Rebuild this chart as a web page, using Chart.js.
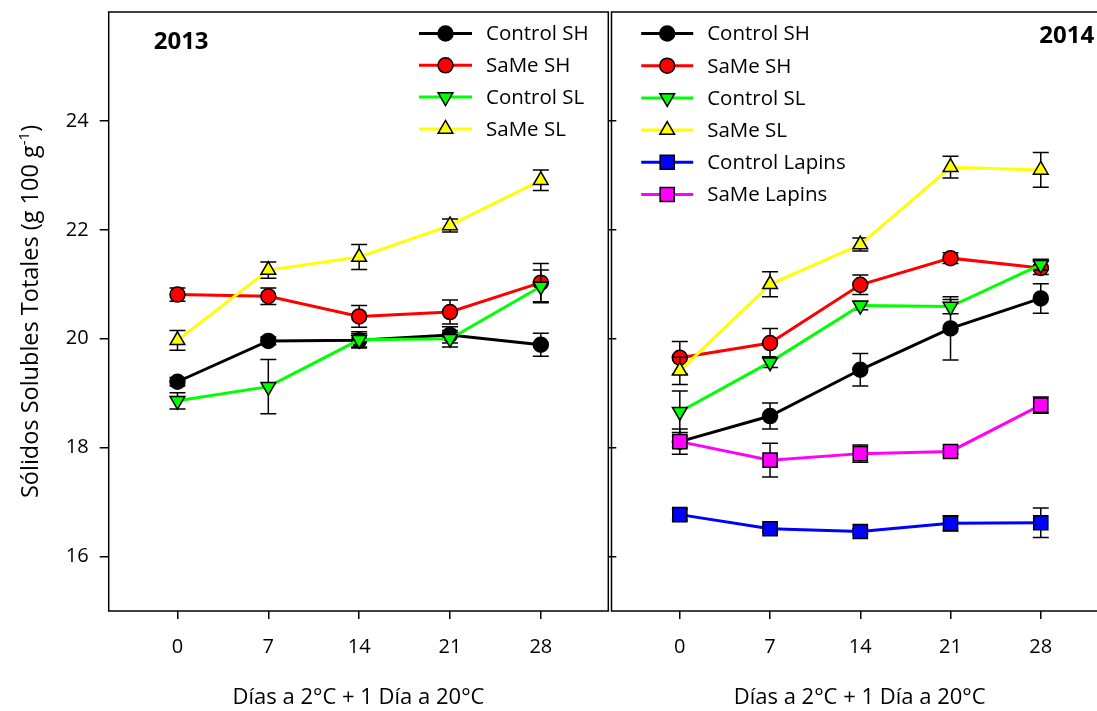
<!DOCTYPE html>
<html lang="es">
<head>
<meta charset="UTF-8">
<title>Sólidos Solubles Totales 2013 - 2014</title>
<script src="https://cdn.jsdelivr.net/npm/chart.js"></script>
<style>
    html, body { margin: 0; padding: 0; background: #fff; overflow: hidden; }
    body { width: 1097px; height: 711px; position: relative; }
    canvas { position: absolute; top: 0; }
    #chart2013 { left: 0; }
    #chart2014 { left: 600px; }
</style>
</head>
<body>
<canvas id="chart2013" width="625" height="711"></canvas>
<canvas id="chart2014" width="520" height="711"></canvas>

<script>
// Sampling days and axis ticks
const days = [0, 7, 14, 21, 28];
const dayTicks = [0, 7, 14, 21, 28];
const brixTicks = [16, 18, 20, 22, 24];

// 2013 season: means and standard errors
const controlSH2013 = [19.21, 19.96, 19.97, 20.07, 19.89];
const controlSH2013Err = [0.08, 0.07, 0.12, 0.15, 0.21];
const sameSH2013 = [20.81, 20.78, 20.41, 20.49, 21.03];
const sameSH2013Err = [0.12, 0.15, 0.2, 0.22, 0.35];
const controlSL2013 = [18.86, 19.12, 19.98, 20.0, 20.96];
const controlSL2013Err = [0.15, 0.5, 0.15, 0.15, 0.3];
const sameSL2013 = [19.97, 21.26, 21.5, 22.08, 22.91];
const sameSL2013Err = [0.18, 0.15, 0.23, 0.12, 0.19];

// 2014 season
const controlSH2014 = [18.11, 18.58, 19.43, 20.19, 20.74];
const controlSH2014Err = [0.1, 0.24, 0.3, 0.58, 0.27];
const sameSH2014 = [19.65, 19.92, 20.99, 21.48, 21.3];
const sameSH2014Err = [0.3, 0.27, 0.18, 0.1, 0.12];
const controlSL2014 = [18.66, 19.57, 20.61, 20.59, 21.36];
const controlSL2014Err = [0.38, 0.1, 0.08, 0.13, 0.1];
const sameSL2014 = [19.41, 21.0, 21.73, 23.15, 23.1];
const sameSL2014Err = [0.25, 0.23, 0.12, 0.2, 0.32];
const controlLapins2014 = [16.77, 16.51, 16.46, 16.61, 16.62];
const controlLapins2014Err = [0.1, 0.06, 0.05, 0.14, 0.27];
const sameLapins2014 = [18.11, 17.77, 17.89, 17.93, 18.78];
const sameLapins2014Err = [0.23, 0.31, 0.16, 0.05, 0.15];

Chart.defaults.font.family = '"Open Sans", sans-serif';
Chart.defaults.color = '#000';

function series(label, values, errors, color, style) {
    const marker = {
        circle: { pointStyle: 'circle', pointRadius: 7.5, pointRotation: 0 },
        down: { pointStyle: 'triangle', pointRadius: 8.5, pointRotation: 180 },
        up: { pointStyle: 'triangle', pointRadius: 8.5, pointRotation: 0 },
        square: { pointStyle: 'rect', pointRadius: 10, pointRotation: 0 }
    }[style];
    return Object.assign({
        label: label,
        data: days.map((d, i) => ({ x: d, y: values[i] })),
        errors: errors,
        borderColor: color,
        borderWidth: 3,
        pointBackgroundColor: color,
        pointBorderColor: '#000',
        pointBorderWidth: 1.5,
        tension: 0,
        fill: false
    }, marker);
}

// Vertical error bars, drawn just before each dataset so its line and markers sit on top
const errorBars = {
    id: 'errorBars',
    beforeDatasetDraw(chart, args) {
        const ds = chart.data.datasets[args.index];
        if (!ds.errors) return;
        const { ctx, scales: { x, y } } = chart;
        ctx.save();
        ctx.strokeStyle = '#000';
        ctx.lineWidth = 1.5;
        ds.data.forEach((p, i) => {
            const e = ds.errors[i];
            const px = x.getPixelForValue(p.x);
            const top = y.getPixelForValue(p.y + e);
            const bot = y.getPixelForValue(p.y - e);
            ctx.beginPath();
            ctx.moveTo(px, top); ctx.lineTo(px, bot);
            ctx.moveTo(px - 8, top); ctx.lineTo(px + 8, top);
            ctx.moveTo(px - 8, bot); ctx.lineTo(px + 8, bot);
            ctx.stroke();
        });
        ctx.restore();
    }
};

// Box around the plot area
const frame = {
    id: 'frame',
    beforeDatasetsDraw(chart) {
        const { ctx, chartArea: a } = chart;
        ctx.save();
        ctx.strokeStyle = '#000';
        ctx.lineWidth = 1.5;
        ctx.strokeRect(a.left, a.top, a.right - a.left, a.bottom - a.top);
        ctx.restore();
    }
};

// Line + symbol key inside the panel
const seriesKey = {
    id: 'seriesKey',
    afterDraw(chart, args, opts) {
        const { ctx, chartArea: a } = chart;
        const x0 = a.left + opts.lineStart;
        const x1 = x0 + opts.lineLength;
        const tx = a.left + opts.textStart;
        chart.data.datasets.forEach((ds, i) => {
            const y = a.top + opts.firstRow + i * opts.rowGap;
            ctx.save();
            ctx.strokeStyle = ds.borderColor;
            ctx.lineWidth = ds.borderWidth;
            ctx.beginPath();
            ctx.moveTo(x0, y);
            ctx.lineTo(x1, y);
            ctx.stroke();
            ctx.fillStyle = ds.pointBackgroundColor;
            ctx.strokeStyle = ds.pointBorderColor;
            ctx.lineWidth = ds.pointBorderWidth;
            Chart.helpers.drawPoint(ctx, {
                pointStyle: ds.pointStyle,
                rotation: ds.pointRotation,
                radius: ds.pointRadius,
                borderWidth: ds.pointBorderWidth
            }, (x0 + x1) / 2, y);
            ctx.fillStyle = '#000';
            ctx.font = '20.5px "Open Sans"';
            ctx.textAlign = 'left';
            ctx.textBaseline = 'middle';
            ctx.fillText(ds.label, tx, y + 1);
            ctx.restore();
        });
    }
};

// Season label in the panel corner
const yearLabel = {
    id: 'yearLabel',
    afterDraw(chart, args, opts) {
        const { ctx, chartArea: a } = chart;
        ctx.save();
        ctx.font = 'bold 24px "Open Sans"';
        ctx.fillStyle = '#000';
        ctx.textAlign = opts.align;
        ctx.textBaseline = 'middle';
        ctx.fillText(opts.text, a.left + opts.x, a.top + opts.y);
        ctx.restore();
    }
};

// Rotated y title with the superscript unit
const yTitle = {
    id: 'yTitle',
    afterDraw(chart, args, opts) {
        if (!opts.text) return;
        const { ctx, chartArea: a } = chart;
        const main = opts.text, sup = '-1', tail = ')';
        const big = '23.5px "Open Sans"', small = '15px "Open Sans"';
        ctx.save();
        ctx.fillStyle = '#000';
        ctx.textBaseline = 'alphabetic';
        ctx.textAlign = 'left';
        ctx.font = big;
        const wMain = ctx.measureText(main).width;
        const wTail = ctx.measureText(tail).width;
        ctx.font = small;
        const wSup = ctx.measureText(sup).width;
        const total = wMain + wSup + wTail;
        ctx.translate(opts.x, (a.top + a.bottom) / 2);
        ctx.rotate(-Math.PI / 2);
        let cx = -total / 2;
        ctx.font = big;
        ctx.fillText(main, cx, 0);
        cx += wMain;
        ctx.font = small;
        ctx.fillText(sup, cx, -9);
        cx += wSup;
        ctx.font = big;
        ctx.fillText(tail, cx, 0);
        ctx.restore();
    }
};

const setTicks = list => scale => { scale.ticks = list.map(v => ({ value: v })); };
const fixHeight = h => scale => { scale.height = h; scale.paddingLeft = 0; scale.paddingRight = 0; };
const fixWidth = w => scale => { scale.width = w; scale.paddingTop = 0; scale.paddingBottom = 0; };

const tickGrid = len => ({
    display: true, drawOnChartArea: false, drawTicks: true,
    tickLength: len, color: '#000', lineWidth: 1.5
});

function xAxis() {
    return {
        type: 'linear', position: 'bottom', min: -5.3, max: 33.2,
        afterBuildTicks: setTicks(dayTicks),
        afterFit: fixHeight(100),
        grid: tickGrid(8),
        border: { display: false },
        ticks: { padding: 16, font: { size: 20 }, autoSkip: false, maxRotation: 0 },
        title: {
            display: true, text: 'Días a 2°C + 1 Día a 20°C',
            font: { size: 22 }, padding: { top: 4, bottom: 0 }
        }
    };
}

function panel(id, datasets, scales, padding, pluginOpts) {
    datasets.forEach((ds, i) => { ds.order = datasets.length - i; });
    return new Chart(document.getElementById(id), {
        type: 'line',
        data: { datasets: datasets },
        options: {
            responsive: false,
            animation: false,
            layout: { padding: padding },
            scales: scales,
            plugins: Object.assign({
                legend: { display: false },
                tooltip: { enabled: false }
            }, pluginOpts)
        },
        plugins: [frame, errorBars, seriesKey, yearLabel, yTitle]
    });
}

panel('chart2013', [
    series('Control SH', controlSH2013, controlSH2013Err, '#000000', 'circle'),
    series('SaMe SH', sameSH2013, sameSH2013Err, '#ff0000', 'circle'),
    series('Control SL', controlSL2013, controlSL2013Err, '#00ff00', 'down'),
    series('SaMe SL', sameSL2013, sameSL2013Err, '#ffff00', 'up')
], {
    x: xAxis(),
    y: {
        type: 'linear', position: 'left', min: 15, max: 26,
        afterBuildTicks: setTicks(brixTicks),
        afterFit: fixWidth(108.7),
        grid: tickGrid(9),
        border: { display: false },
        ticks: { padding: 11, font: { size: 20 } }
    },
    y2: {
        type: 'linear', position: 'right', min: 15, max: 26,
        afterBuildTicks: setTicks(brixTicks),
        afterFit: fixWidth(625 - 608.3),
        grid: tickGrid(8),
        border: { display: false },
        ticks: { display: false }
    }
}, { left: 0, right: 0, top: 12, bottom: 0 }, {
    seriesKey: { lineStart: 310.3, lineLength: 53, textStart: 377.3, firstRow: 21.5, rowGap: 31.8 },
    yearLabel: { text: '2013', x: 45, y: 30, align: 'left' },
    yTitle: { text: 'Sólidos Solubles Totales (g 100 g', x: 38 }
});

panel('chart2014', [
    series('Control SH', controlSH2014, controlSH2014Err, '#000000', 'circle'),
    series('SaMe SH', sameSH2014, sameSH2014Err, '#ff0000', 'circle'),
    series('Control SL', controlSL2014, controlSL2014Err, '#00ff00', 'down'),
    series('SaMe SL', sameSL2014, sameSL2014Err, '#ffff00', 'up'),
    series('Control Lapins', controlLapins2014, controlLapins2014Err, '#0000ff', 'square'),
    series('SaMe Lapins', sameLapins2014, sameLapins2014Err, '#ff00ff', 'square')
], {
    x: xAxis(),
    y: { type: 'linear', display: false, min: 15, max: 26 }
}, { left: 8.3, right: 12.2, top: 12, bottom: 0 }, {
    seriesKey: { lineStart: 29.7, lineLength: 52, textStart: 95.7, firstRow: 21.5, rowGap: 32.2 },
    yearLabel: { text: '2014', x: 482.7, y: 24, align: 'right' },
    yTitle: { text: '' }
});
</script>
</body>
</html>
